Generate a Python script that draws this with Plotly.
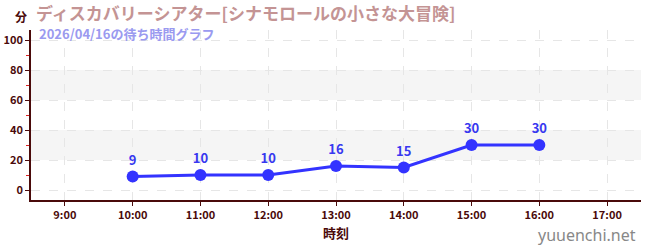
import plotly.graph_objects as go

times = ["10:00", "11:00", "12:00", "13:00", "14:00", "15:00", "16:00"]
waits = [9, 10, 10, 16, 15, 30, 30]
tick_labels = ["9:00", "10:00", "11:00", "12:00", "13:00", "14:00", "15:00", "16:00", "17:00"]
title = "ディスカバリーシアター[シナモロールの小さな大冒険]"
subtitle = "2026/04/16の待ち時間グラフ"

def hour(t):
    h, m = t.split(":")
    return int(h) + int(m) / 60

xs = [hour(t) for t in times]
tickvals = [hour(t) for t in tick_labels]

FONT = "Noto Sans CJK JP"
AX = "#4a0a0a"
PW, PH, L, T = 610, 170, 31, 30

fig = go.Figure()
for lo, hi in [(20, 40), (60, 80)]:
    fig.add_shape(type="rect", xref="paper", yref="y", x0=0, x1=1, y0=lo, y1=hi,
                  fillcolor="#f5f5f5", line_width=0, layer="below")

fig.add_trace(go.Scatter(
    x=xs, y=waits, mode="lines+markers+text",
    text=[str(v) for v in waits], textposition="top center",
    textfont=dict(family=FONT, size=13, color="#3838f0", weight="bold"),
    line=dict(color="#3333ff", width=3),
    marker=dict(color="#3333ff", size=12),
    cliponaxis=False, hoverinfo="skip"))

fig.update_layout(
    width=650, height=250,
    margin=dict(l=L, r=9, t=T, b=50),
    plot_bgcolor="white", paper_bgcolor="white",
    showlegend=False,
    font=dict(family=FONT, color=AX),
    xaxis=dict(range=[8.5, 17.5], tickvals=tickvals, ticktext=tick_labels, automargin=False,
               showline=True, linecolor=AX, linewidth=1.5, ticks="outside",
               ticklen=4, tickcolor=AX, tickfont=dict(size=11, color=AX, weight="bold"),
               showgrid=True, gridcolor="#e6e6e6", griddash="dash", gridwidth=1,
               zeroline=False, mirror=False,
               title=dict(text="時刻", font=dict(size=13, color=AX, weight="bold"), standoff=8)),
    yaxis=dict(range=[-6.67, 106.67], tickvals=[0, 20, 40, 60, 80, 100], automargin=False,
               showline=True, linecolor=AX, linewidth=1.5, ticks="outside",
               ticklen=4, tickcolor=AX, tickfont=dict(size=11, color=AX, weight="bold"),
               showgrid=True, gridcolor="#e6e6e6", griddash="dash", gridwidth=1,
               zeroline=False,
               minor=dict(tickvals=[10, 30, 50, 70, 90], ticks="outside", ticklen=3,
                          tickcolor="#dd2222", showgrid=False)),
)

def px_x(x):
    return (x - L) / PW

def px_y(y):
    return 1 - (y - T) / PH

fig.add_annotation(xref="paper", yref="paper", x=px_x(14), y=px_y(16), xanchor="left", yanchor="middle",
                   text="分", showarrow=False, borderpad=0,
                   font=dict(family=FONT, size=12, color=AX, weight="bold"))
fig.add_annotation(xref="paper", yref="paper", x=px_x(35), y=px_y(13), xanchor="left", yanchor="middle",
                   text=title, showarrow=False, borderpad=0,
                   font=dict(family=FONT, size=17, color="#c49494", weight="bold"))
fig.add_annotation(xref="paper", yref="paper", x=px_x(38), y=px_y(33), xanchor="left", yanchor="middle",
                   text=subtitle, showarrow=False, borderpad=0,
                   font=dict(family=FONT, size=13, color="#9a9af0", weight="bold"))
fig.add_annotation(xref="paper", yref="paper", x=px_x(638), y=px_y(235), xanchor="right", yanchor="middle",
                   text="yuuenchi.net", showarrow=False,
                   font=dict(family="Noto Sans", size=16, color="#888888"))

fig.write_html("out.html")
